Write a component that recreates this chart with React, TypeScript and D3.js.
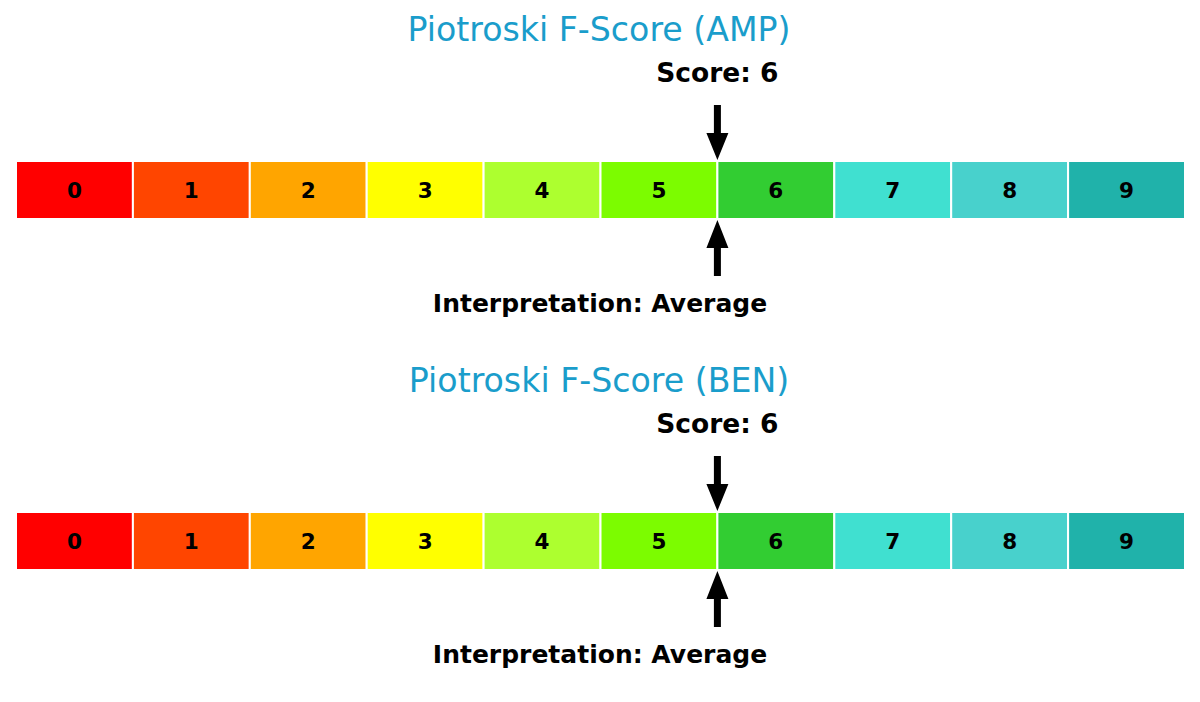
import React from "react";
import * as d3 from "d3";

const scoreLevels = [0, 1, 2, 3, 4, 5, 6, 7, 8, 9];
const levelColors = [
  "#FF0000", "#FF4500", "#FFA500", "#FFFF00", "#ADFF2F",
  "#7CFC00", "#32CD32", "#40E0D0", "#48D1CC", "#20B2AA",
];
const companies = ["AMP", "BEN"];
const scores = [6, 6];
const interpretations = ["Average", "Average"];

const W = 1200;
const H = 702;
const FONT = "'DejaVu Sans', sans-serif";

export default function App() {
  const x = d3.scaleLinear().domain([0, 10]).range([16, 1185]);
  const panelY = d3.scaleLinear().domain([0, 1]).range([0, 351]);
  const barTop = 161;
  const barH = 58;

  return (
    <svg
      width={W}
      height={H}
      style={{ position: "absolute", left: 0, top: 0, background: "#fff" }}
      fontFamily={FONT}
    >
      {companies.map((c, pi) => {
        const oy = panelY(pi);
        const sx = x(scores[pi]);
        const downArrow = `M${sx - 3.5},${oy + 105} L${sx + 3.5},${oy + 105} L${sx + 3.5},${oy + 133} L${sx + 11},${oy + 133} L${sx},${oy + 160} L${sx - 11},${oy + 133} L${sx - 3.5},${oy + 133} Z`;
        const upArrow = `M${sx - 3.5},${oy + 276} L${sx + 3.5},${oy + 276} L${sx + 3.5},${oy + 248} L${sx + 11},${oy + 248} L${sx},${oy + 220} L${sx - 11},${oy + 248} L${sx - 3.5},${oy + 248} Z`;
        return (
          <g key={c}>
            <text
              x={W / 2 - 1}
              y={oy + 41}
              textAnchor="middle"
              fontSize={33.2}
              fill="#1a9dcb"
            >
              {`Piotroski F-Score (${c})`}
            </text>
            <text
              x={sx}
              y={oy + 82}
              textAnchor="middle"
              fontSize={26.5}
              fontWeight="bold"
              fill="#000"
            >
              {`Score: ${scores[pi]}`}
            </text>
            {scoreLevels.map((lv, i) => (
              <g key={lv}>
                <rect
                  x={x(lv)}
                  y={oy + barTop}
                  width={x(lv + 1) - x(lv)}
                  height={barH}
                  fill={levelColors[i]}
                  stroke="#fff"
                  strokeWidth={2}
                />
                <text
                  x={(x(lv) + x(lv + 1)) / 2}
                  y={oy + barTop + barH / 2}
                  textAnchor="middle"
                  dominantBaseline="central"
                  fontSize={21.5}
                  fontWeight="bold"
                  fill="#000"
                >
                  {lv}
                </text>
              </g>
            ))}
            <path d={downArrow} fill="#000" />
            <path d={upArrow} fill="#000" />
            <text
              x={W / 2}
              y={oy + 312}
              textAnchor="middle"
              fontSize={25}
              fontWeight="bold"
              fill="#000"
            >
              {`Interpretation: ${interpretations[pi]}`}
            </text>
          </g>
        );
      })}
    </svg>
  );
}
